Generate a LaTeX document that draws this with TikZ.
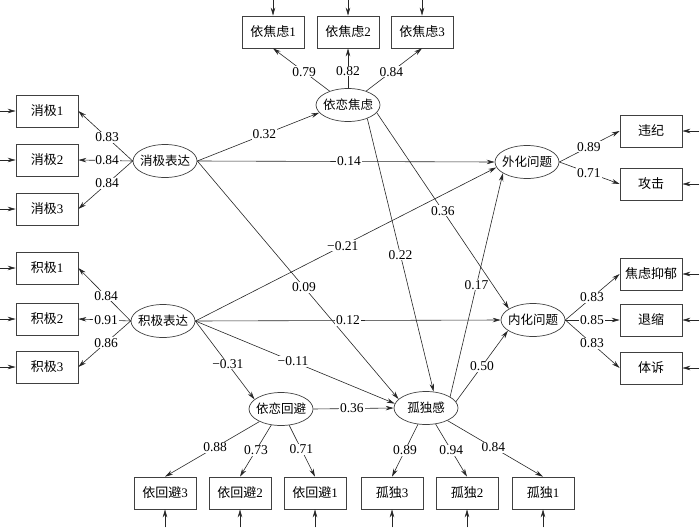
\documentclass[tikz,border=0pt]{standalone}
\usepackage{fontspec}
\setmainfont{Liberation Serif}
\newfontfamily\cjk{Noto Sans CJK SC}
\usetikzlibrary{arrows.meta,shapes.geometric}
\begin{document}
\begin{tikzpicture}[x=1pt,y=-1pt,
  obs/.style={draw=black!75, line width=0.7pt, minimum width=62pt, minimum height=32pt, inner sep=0pt, font=\fontsize{13}{15}\selectfont},
  lat/.style={draw=black!75, line width=0.7pt, ellipse, minimum width=64pt, minimum height=33pt, inner xsep=-3pt, inner ysep=0pt, font=\fontsize{12.5}{15}\selectfont\cjk},
  arr/.style={-{Stealth[length=8pt,width=4.5pt]}, line width=0.6pt, draw=black!85},
  lbl/.style={fill=white, inner sep=0.8pt, font=\fontsize{13.5}{15}\selectfont, text=black},
]
\useasboundingbox (0,0) rectangle (700,527);

% latent variables
\node[lat] (anx) at (348,105) {依恋焦虑};
\node[lat] (neg) at (165,161) {消极表达};
\node[lat] (pos) at (163,321) {积极表达};
\node[lat] (ext) at (527,162) {外化问题};
\node[lat] (int) at (533,320) {内化问题};
\node[lat] (avo) at (281,409) {依恋回避};
\node[lat] (lon) at (426,408) {孤独感};

% observed variables
\node[obs] (a1) at (273,32) {{\cjk 依焦虑}1};
\node[obs] (a2) at (348,32) {{\cjk 依焦虑}2};
\node[obs] (a3) at (422,32) {{\cjk 依焦虑}3};
\node[obs] (n1) at (47,111) {{\cjk 消极}1};
\node[obs] (n2) at (47,160) {{\cjk 消极}2};
\node[obs] (n3) at (47,209) {{\cjk 消极}3};
\node[obs] (p1) at (47,268) {{\cjk 积极}1};
\node[obs] (p2) at (47,319) {{\cjk 积极}2};
\node[obs] (p3) at (47,367) {{\cjk 积极}3};
\node[obs] (e1) at (651,131) {\cjk 违纪};
\node[obs] (e2) at (651,184) {\cjk 攻击};
\node[obs] (i1) at (651,274) {\cjk 焦虑抑郁};
\node[obs] (i2) at (651,320) {\cjk 退缩};
\node[obs] (i3) at (651,368) {\cjk 体诉};
\node[obs] (v3) at (165,493) {{\cjk 依回避}3};
\node[obs] (v2) at (240,493) {{\cjk 依回避}2};
\node[obs] (v1) at (315,493) {{\cjk 依回避}1};
\node[obs] (l3) at (392,493) {{\cjk 孤独}3};
\node[obs] (l2) at (467,493) {{\cjk 孤独}2};
\node[obs] (l1) at (543,493) {{\cjk 孤独}1};

% error arrows
\foreach \n in {a1,a2,a3} \draw[arr] ([yshift=16pt]\n.north) -- (\n.north);
\foreach \n in {n1,n2,n3,p1,p2,p3} \draw[arr] ([xshift=-16pt]\n.west) -- (\n.west);
\foreach \n in {e1,e2,i1,i2,i3} \draw[arr] ([xshift=17pt]\n.east) -- (\n.east);
\foreach \n in {v1,v2,v3,l1,l2,l3} \draw[arr] ([yshift=-18pt]\n.south) -- (\n.south);

% measurement paths
\draw[arr] (anx) -- node[lbl,pos=0.45]{0.79} (a1.south);
\draw[arr] (anx) -- node[lbl,pos=0.43]{0.82} (a2.south);
\draw[arr] (anx) -- node[lbl,pos=0.45]{0.84} (a3.south);
\draw[arr] (neg.west) -- node[lbl,pos=0.47]{0.83} (n1.east);
\draw[arr] (neg.west) -- node[lbl,pos=0.47]{0.84} (n2.east);
\draw[arr] (neg.west) -- node[lbl,pos=0.47]{0.84} (n3.east);
\draw[arr] (pos.west) -- node[lbl,pos=0.47]{0.84} (p1.east);
\draw[arr] (pos.west) -- node[lbl,pos=0.47]{0.91} (p2.east);
\draw[arr] (pos.west) -- node[lbl,pos=0.47]{0.86} (p3.east);
\draw[arr] (ext.east) -- node[lbl,pos=0.49]{0.89} (e1.west);
\draw[arr] (ext.east) -- node[lbl,pos=0.49]{0.71} (e2.west);
\draw[arr] (int.east) -- node[lbl,pos=0.49]{0.83} (i1.west);
\draw[arr] (int.east) -- node[lbl,pos=0.49]{0.85} (i2.west);
\draw[arr] (int.east) -- node[lbl,pos=0.49]{0.83} (i3.west);
\draw[arr] (avo) -- node[lbl,pos=0.47]{0.88} (v3.north);
\draw[arr] (avo) -- node[lbl,pos=0.49]{0.73} (v2.north);
\draw[arr] (avo) -- node[lbl,pos=0.47]{0.71} (v1.north);
\draw[arr] (lon) -- node[lbl,pos=0.5]{0.89} (l3.north);
\draw[arr] (lon) -- node[lbl,pos=0.5]{0.94} (l2.north);
\draw[arr] (lon) -- node[lbl,pos=0.48]{0.84} (l1.north);

% structural paths
\draw[arr] (neg.east) -- node[lbl,pos=0.55]{0.32} (anx.195);
\draw[arr] (neg.east) -- node[lbl,pos=0.51]{0.14} (ext.west);
\draw[arr] (neg.east) -- node[lbl,pos=0.53]{0.09} (lon.162);
\draw[arr] (pos.east) -- node[lbl,pos=0.49]{−0.21} (ext.190);
\draw[arr] (pos.east) -- node[lbl,pos=0.5]{0.12} (int.west);
\draw[arr] (pos.east) -- node[lbl,pos=0.49]{−0.11} (lon.172);
\draw[arr] (pos.east) -- node[lbl,pos=0.55]{−0.31} (avo.160);
\draw[arr] (avo.east) -- node[lbl,pos=0.48]{0.36} (lon.west);
\draw[arr] (anx.-35) -- node[lbl,pos=0.5]{0.22} (lon.65);
\draw[arr] (anx.-15) -- node[lbl,pos=0.5]{0.36} (int.155);
\draw[arr] (lon.25) -- node[lbl,pos=0.5]{0.17} (ext.205);
\draw[arr] (lon.12) -- node[lbl,pos=0.5]{0.50} (int.203);
\end{tikzpicture}
\end{document}
